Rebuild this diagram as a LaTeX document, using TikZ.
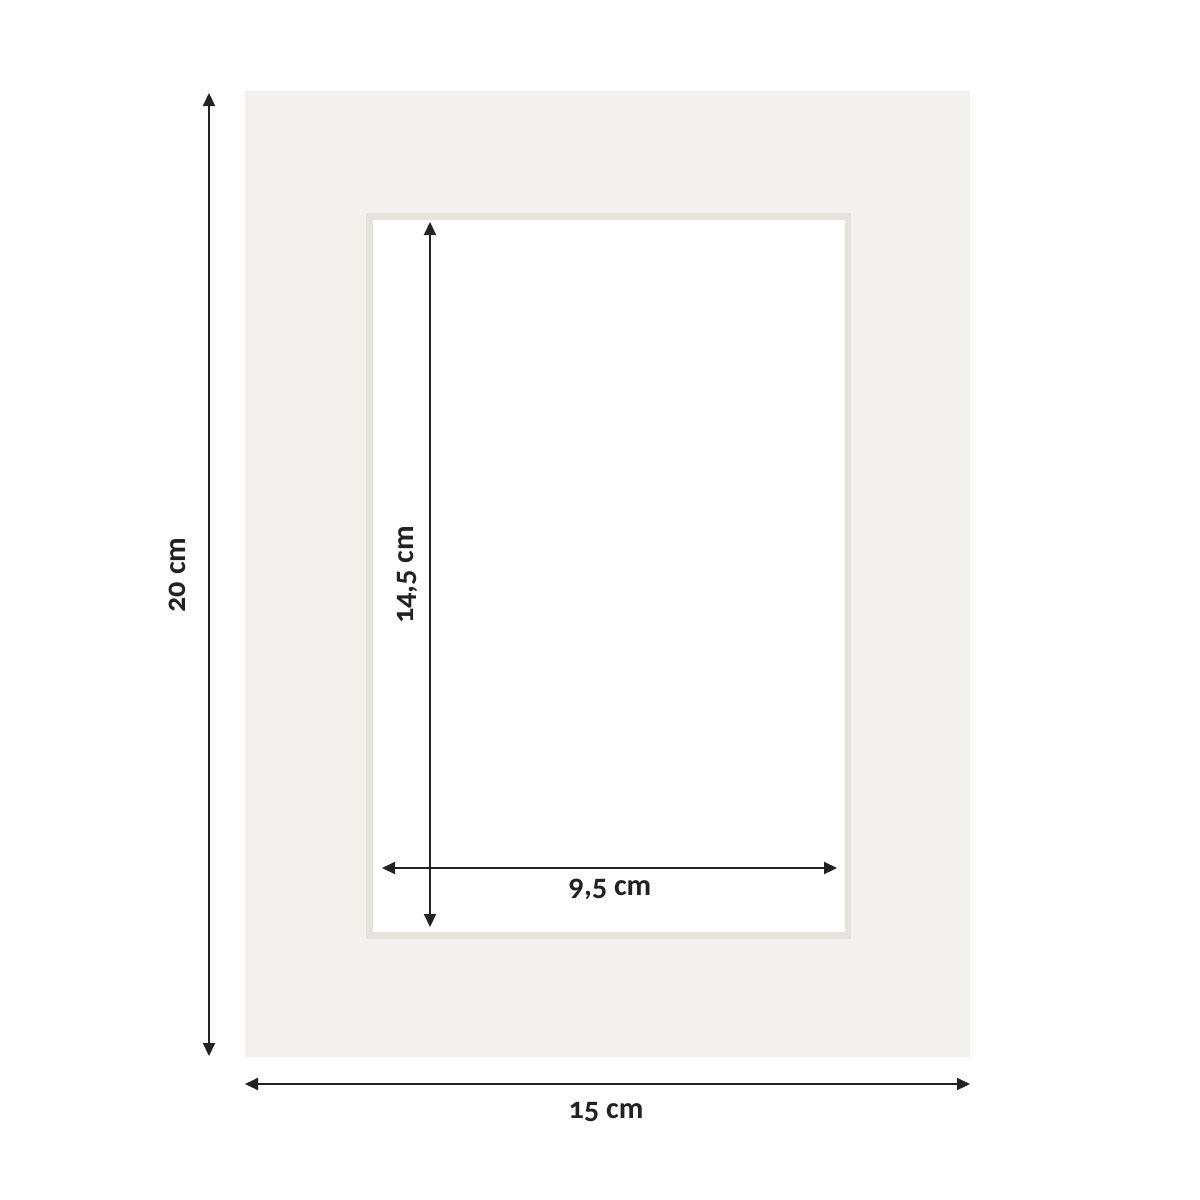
\documentclass[tikz,border=0pt]{standalone}
\usepackage{fontspec}
\setmainfont{Carlito}[Numbers=OldStyle]
\usetikzlibrary{arrows.meta}
\definecolor{mat}{HTML}{F2F1ED}
\definecolor{bevel}{HTML}{E6E3DD}
\definecolor{ink}{HTML}{222222}
\tikzset{
  dim/.style={draw=ink, line width=0.6pt, {Triangle[length=0.13cm,width=0.12cm]}-{Triangle[length=0.13cm,width=0.12cm]}},
  lab/.style={font=\fontsize{8.6}{10}\selectfont\bfseries, text=ink, inner sep=0pt},
}
\begin{document}
\begin{tikzpicture}[x=0.01cm,y=-0.01cm]
\useasboundingbox (0,0) rectangle (1200,1200);
\fill[white] (0,0) rectangle (1200,1200);
% mat
\fill[mat] (245,91) rectangle (970,1057);
\fill[bevel] (366,213) rectangle (851,939);
\fill[white] (373,220) rectangle (845,932);
% coordinates
\coordinate (Lt) at (209,93);
\coordinate (Lb) at (209,1056);
\coordinate (Bl) at (245,1084);
\coordinate (Br) at (970,1084);
\coordinate (It) at (430,222);
\coordinate (Ib) at (430,927);
\coordinate (Hl) at (382,868);
\coordinate (Hr) at (837,868);
\draw[dim] (Lt) -- (Lb);
\draw[dim] (Bl) -- (Br);
\draw[dim] (It) -- (Ib);
\draw[dim] (Hl) -- (Hr);
\node[lab, rotate=90] (l20) at (177,575) {20 cm};
\node[lab] (l15) at (606,1112) {15 cm};
\node[lab, rotate=90] (l145) at (407,575) {14,5 cm};
\node[lab] (l95) at (610,889) {9,5 cm};
\end{tikzpicture}
\end{document}
